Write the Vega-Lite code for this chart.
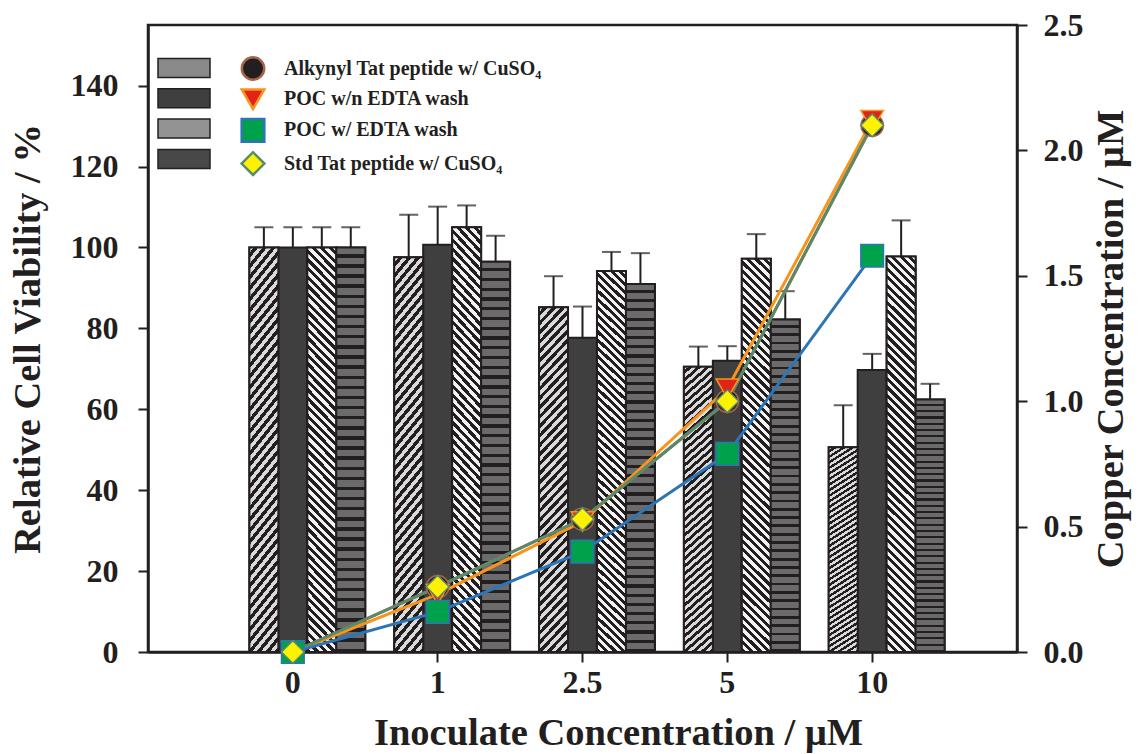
{
  "$schema": "https://vega.github.io/schema/vega-lite/v6.json",
  "width": 869,
  "height": 627,
  "autosize": "none",
  "padding": {"left": 148, "top": 25, "right": 122, "bottom": 102},
  "background": "white",
  "data": {
    "values": [
      {"conc": "0", "series": "Alkynyl Tat peptide w/ CuSO₄", "viability": 100, "cap": 105, "copper": 0},
      {"conc": "0", "series": "POC w/n EDTA wash", "viability": 100, "cap": 105, "copper": 0},
      {"conc": "0", "series": "POC w/ EDTA wash", "viability": 100, "cap": 105, "copper": 0},
      {"conc": "0", "series": "Std Tat peptide w/ CuSO₄", "viability": 100, "cap": 105, "copper": 0},
      {"conc": "1", "series": "Alkynyl Tat peptide w/ CuSO₄", "viability": 97.6, "cap": 108.1, "copper": 0.26},
      {"conc": "1", "series": "POC w/n EDTA wash", "viability": 100.7, "cap": 110.1, "copper": 0.23},
      {"conc": "1", "series": "POC w/ EDTA wash", "viability": 105, "cap": 110.4, "copper": 0.16},
      {"conc": "1", "series": "Std Tat peptide w/ CuSO₄", "viability": 96.5, "cap": 102.9, "copper": 0.26},
      {"conc": "2.5", "series": "Alkynyl Tat peptide w/ CuSO₄", "viability": 85.2, "cap": 92.9, "copper": 0.53},
      {"conc": "2.5", "series": "POC w/n EDTA wash", "viability": 77.7, "cap": 85.4, "copper": 0.52},
      {"conc": "2.5", "series": "POC w/ EDTA wash", "viability": 94.2, "cap": 98.9, "copper": 0.4},
      {"conc": "2.5", "series": "Std Tat peptide w/ CuSO₄", "viability": 91, "cap": 98.6, "copper": 0.53},
      {"conc": "5", "series": "Alkynyl Tat peptide w/ CuSO₄", "viability": 70.5, "cap": 75.5, "copper": 1.0},
      {"conc": "5", "series": "POC w/n EDTA wash", "viability": 72, "cap": 75.6, "copper": 1.05},
      {"conc": "5", "series": "POC w/ EDTA wash", "viability": 97.2, "cap": 103.3, "copper": 0.79},
      {"conc": "5", "series": "Std Tat peptide w/ CuSO₄", "viability": 82.2, "cap": 89.2, "copper": 1.0},
      {"conc": "10", "series": "Alkynyl Tat peptide w/ CuSO₄", "viability": 50.6, "cap": 61, "copper": 2.1},
      {"conc": "10", "series": "POC w/n EDTA wash", "viability": 69.7, "cap": 73.7, "copper": 2.12},
      {"conc": "10", "series": "POC w/ EDTA wash", "viability": 97.8, "cap": 106.7, "copper": 1.58},
      {"conc": "10", "series": "Std Tat peptide w/ CuSO₄", "viability": 62.4, "cap": 66.3, "copper": 2.1}
    ]
  },
  "layer": [
    {
      "encoding": {
        "x": {
          "field": "conc",
          "type": "ordinal",
          "sort": ["0", "1", "2.5", "5", "10"],
          "scale": {"paddingInner": 0, "paddingOuter": 0.5},
          "axis": {"title": "Inoculate Concentration / μM", "labelAngle": 0, "labelPadding": 5, "titlePadding": 16, "titleX": 470}
        },
        "xOffset": {
          "field": "series",
          "scale": {"domain": ["pad", "Alkynyl Tat peptide w/ CuSO₄", "POC w/n EDTA wash", "POC w/ EDTA wash", "Std Tat peptide w/ CuSO₄"], "paddingInner": 0, "paddingOuter": 0}
        },
        "y": {
          "field": "viability",
          "type": "quantitative",
          "scale": {"domain": [0, 155], "nice": false},
          "axis": {"title": "Relative Cell Viability / %", "values": [0, 20, 40, 60, 80, 100, 120, 140], "labelPadding": 20, "titlePadding": 22.5}
        }
      },
      "layer": [
        {
          "mark": {"type": "bar", "stroke": "#231f20", "strokeWidth": 2},
          "encoding": {
            "color": {
              "field": "series",
              "type": "nominal",
              "sort": ["Alkynyl Tat peptide w/ CuSO₄", "POC w/n EDTA wash", "POC w/ EDTA wash", "Std Tat peptide w/ CuSO₄"],
              "scale": {"range": ["#8a8a8a", "#3f3f3f", "#939393", "#484848"]},
              "legend": {
                "orient": "none",
                "legendX": 25,
                "legendY": 32,
                "title": null,
                "labelExpr": "''",
                "symbolType": "M-2.6,-0.95L2.6,-0.95L2.6,0.95L-2.6,0.95Z",
                "symbolSize": 400,
                "symbolStrokeColor": "#231f20",
                "symbolStrokeWidth": 1.5,
                "symbolOpacity": 1,
                "rowPadding": 4.3,
                "labelFontSize": 19
              }
            }
          }
        },
        {
          "transform": [{"filter": "datum.series === 'Alkynyl Tat peptide w/ CuSO₄'"}],
          "mark": {
            "type": "bar", "stroke": "#231f20", "strokeWidth": 2,
            "fill": {"gradient": "linear", "x1": 0, "y1": 0, "x2": 0.0965, "y2": 1.0807, "stops": [
              {"offset": 0, "color": "#dadada"}, {"offset": 0.0125, "color": "#dadada"}, {"offset": 0.0125, "color": "#231f20"}, {"offset": 0.025, "color": "#231f20"},
              {"offset": 0.025, "color": "#dadada"}, {"offset": 0.0375, "color": "#dadada"}, {"offset": 0.0375, "color": "#231f20"}, {"offset": 0.05, "color": "#231f20"},
              {"offset": 0.05, "color": "#dadada"}, {"offset": 0.0625, "color": "#dadada"}, {"offset": 0.0625, "color": "#231f20"}, {"offset": 0.075, "color": "#231f20"},
              {"offset": 0.075, "color": "#dadada"}, {"offset": 0.0875, "color": "#dadada"}, {"offset": 0.0875, "color": "#231f20"}, {"offset": 0.1, "color": "#231f20"},
              {"offset": 0.1, "color": "#dadada"}, {"offset": 0.1125, "color": "#dadada"}, {"offset": 0.1125, "color": "#231f20"}, {"offset": 0.125, "color": "#231f20"},
              {"offset": 0.125, "color": "#dadada"}, {"offset": 0.1375, "color": "#dadada"}, {"offset": 0.1375, "color": "#231f20"}, {"offset": 0.15, "color": "#231f20"},
              {"offset": 0.15, "color": "#dadada"}, {"offset": 0.1625, "color": "#dadada"}, {"offset": 0.1625, "color": "#231f20"}, {"offset": 0.175, "color": "#231f20"},
              {"offset": 0.175, "color": "#dadada"}, {"offset": 0.1875, "color": "#dadada"}, {"offset": 0.1875, "color": "#231f20"}, {"offset": 0.2, "color": "#231f20"},
              {"offset": 0.2, "color": "#dadada"}, {"offset": 0.2125, "color": "#dadada"}, {"offset": 0.2125, "color": "#231f20"}, {"offset": 0.225, "color": "#231f20"},
              {"offset": 0.225, "color": "#dadada"}, {"offset": 0.2375, "color": "#dadada"}, {"offset": 0.2375, "color": "#231f20"}, {"offset": 0.25, "color": "#231f20"},
              {"offset": 0.25, "color": "#dadada"}, {"offset": 0.2625, "color": "#dadada"}, {"offset": 0.2625, "color": "#231f20"}, {"offset": 0.275, "color": "#231f20"},
              {"offset": 0.275, "color": "#dadada"}, {"offset": 0.2875, "color": "#dadada"}, {"offset": 0.2875, "color": "#231f20"}, {"offset": 0.3, "color": "#231f20"},
              {"offset": 0.3, "color": "#dadada"}, {"offset": 0.3125, "color": "#dadada"}, {"offset": 0.3125, "color": "#231f20"}, {"offset": 0.325, "color": "#231f20"},
              {"offset": 0.325, "color": "#dadada"}, {"offset": 0.3375, "color": "#dadada"}, {"offset": 0.3375, "color": "#231f20"}, {"offset": 0.35, "color": "#231f20"},
              {"offset": 0.35, "color": "#dadada"}, {"offset": 0.3625, "color": "#dadada"}, {"offset": 0.3625, "color": "#231f20"}, {"offset": 0.375, "color": "#231f20"},
              {"offset": 0.375, "color": "#dadada"}, {"offset": 0.3875, "color": "#dadada"}, {"offset": 0.3875, "color": "#231f20"}, {"offset": 0.4, "color": "#231f20"},
              {"offset": 0.4, "color": "#dadada"}, {"offset": 0.4125, "color": "#dadada"}, {"offset": 0.4125, "color": "#231f20"}, {"offset": 0.425, "color": "#231f20"},
              {"offset": 0.425, "color": "#dadada"}, {"offset": 0.4375, "color": "#dadada"}, {"offset": 0.4375, "color": "#231f20"}, {"offset": 0.45, "color": "#231f20"},
              {"offset": 0.45, "color": "#dadada"}, {"offset": 0.4625, "color": "#dadada"}, {"offset": 0.4625, "color": "#231f20"}, {"offset": 0.475, "color": "#231f20"},
              {"offset": 0.475, "color": "#dadada"}, {"offset": 0.4875, "color": "#dadada"}, {"offset": 0.4875, "color": "#231f20"}, {"offset": 0.5, "color": "#231f20"},
              {"offset": 0.5, "color": "#dadada"}, {"offset": 0.5125, "color": "#dadada"}, {"offset": 0.5125, "color": "#231f20"}, {"offset": 0.525, "color": "#231f20"},
              {"offset": 0.525, "color": "#dadada"}, {"offset": 0.5375, "color": "#dadada"}, {"offset": 0.5375, "color": "#231f20"}, {"offset": 0.55, "color": "#231f20"},
              {"offset": 0.55, "color": "#dadada"}, {"offset": 0.5625, "color": "#dadada"}, {"offset": 0.5625, "color": "#231f20"}, {"offset": 0.575, "color": "#231f20"},
              {"offset": 0.575, "color": "#dadada"}, {"offset": 0.5875, "color": "#dadada"}, {"offset": 0.5875, "color": "#231f20"}, {"offset": 0.6, "color": "#231f20"},
              {"offset": 0.6, "color": "#dadada"}, {"offset": 0.6125, "color": "#dadada"}, {"offset": 0.6125, "color": "#231f20"}, {"offset": 0.625, "color": "#231f20"},
              {"offset": 0.625, "color": "#dadada"}, {"offset": 0.6375, "color": "#dadada"}, {"offset": 0.6375, "color": "#231f20"}, {"offset": 0.65, "color": "#231f20"},
              {"offset": 0.65, "color": "#dadada"}, {"offset": 0.6625, "color": "#dadada"}, {"offset": 0.6625, "color": "#231f20"}, {"offset": 0.675, "color": "#231f20"},
              {"offset": 0.675, "color": "#dadada"}, {"offset": 0.6875, "color": "#dadada"}, {"offset": 0.6875, "color": "#231f20"}, {"offset": 0.7, "color": "#231f20"},
              {"offset": 0.7, "color": "#dadada"}, {"offset": 0.7125, "color": "#dadada"}, {"offset": 0.7125, "color": "#231f20"}, {"offset": 0.725, "color": "#231f20"},
              {"offset": 0.725, "color": "#dadada"}, {"offset": 0.7375, "color": "#dadada"}, {"offset": 0.7375, "color": "#231f20"}, {"offset": 0.75, "color": "#231f20"},
              {"offset": 0.75, "color": "#dadada"}, {"offset": 0.7625, "color": "#dadada"}, {"offset": 0.7625, "color": "#231f20"}, {"offset": 0.775, "color": "#231f20"},
              {"offset": 0.775, "color": "#dadada"}, {"offset": 0.7875, "color": "#dadada"}, {"offset": 0.7875, "color": "#231f20"}, {"offset": 0.8, "color": "#231f20"},
              {"offset": 0.8, "color": "#dadada"}, {"offset": 0.8125, "color": "#dadada"}, {"offset": 0.8125, "color": "#231f20"}, {"offset": 0.825, "color": "#231f20"},
              {"offset": 0.825, "color": "#dadada"}, {"offset": 0.8375, "color": "#dadada"}, {"offset": 0.8375, "color": "#231f20"}, {"offset": 0.85, "color": "#231f20"},
              {"offset": 0.85, "color": "#dadada"}, {"offset": 0.8625, "color": "#dadada"}, {"offset": 0.8625, "color": "#231f20"}, {"offset": 0.875, "color": "#231f20"},
              {"offset": 0.875, "color": "#dadada"}, {"offset": 0.8875, "color": "#dadada"}, {"offset": 0.8875, "color": "#231f20"}, {"offset": 0.9, "color": "#231f20"},
              {"offset": 0.9, "color": "#dadada"}, {"offset": 0.9125, "color": "#dadada"}, {"offset": 0.9125, "color": "#231f20"}, {"offset": 0.925, "color": "#231f20"},
              {"offset": 0.925, "color": "#dadada"}, {"offset": 0.9375, "color": "#dadada"}, {"offset": 0.9375, "color": "#231f20"}, {"offset": 0.95, "color": "#231f20"},
              {"offset": 0.95, "color": "#dadada"}, {"offset": 0.9625, "color": "#dadada"}, {"offset": 0.9625, "color": "#231f20"}, {"offset": 0.975, "color": "#231f20"},
              {"offset": 0.975, "color": "#dadada"}, {"offset": 0.9875, "color": "#dadada"}, {"offset": 0.9875, "color": "#231f20"}, {"offset": 1, "color": "#231f20"}
            ]}
          }
        },
        {
          "transform": [{"filter": "datum.series === 'POC w/ EDTA wash'"}],
          "mark": {
            "type": "bar", "stroke": "#231f20", "strokeWidth": 2,
            "fill": {"gradient": "linear", "x1": 1, "y1": 0, "x2": 0.9221, "y2": 1.0673, "stops": [
              {"offset": 0, "color": "#f2f2f2"}, {"offset": 0.01, "color": "#f2f2f2"}, {"offset": 0.01, "color": "#231f20"}, {"offset": 0.02, "color": "#231f20"},
              {"offset": 0.02, "color": "#f2f2f2"}, {"offset": 0.03, "color": "#f2f2f2"}, {"offset": 0.03, "color": "#231f20"}, {"offset": 0.04, "color": "#231f20"},
              {"offset": 0.04, "color": "#f2f2f2"}, {"offset": 0.05, "color": "#f2f2f2"}, {"offset": 0.05, "color": "#231f20"}, {"offset": 0.06, "color": "#231f20"},
              {"offset": 0.06, "color": "#f2f2f2"}, {"offset": 0.07, "color": "#f2f2f2"}, {"offset": 0.07, "color": "#231f20"}, {"offset": 0.08, "color": "#231f20"},
              {"offset": 0.08, "color": "#f2f2f2"}, {"offset": 0.09, "color": "#f2f2f2"}, {"offset": 0.09, "color": "#231f20"}, {"offset": 0.1, "color": "#231f20"},
              {"offset": 0.1, "color": "#f2f2f2"}, {"offset": 0.11, "color": "#f2f2f2"}, {"offset": 0.11, "color": "#231f20"}, {"offset": 0.12, "color": "#231f20"},
              {"offset": 0.12, "color": "#f2f2f2"}, {"offset": 0.13, "color": "#f2f2f2"}, {"offset": 0.13, "color": "#231f20"}, {"offset": 0.14, "color": "#231f20"},
              {"offset": 0.14, "color": "#f2f2f2"}, {"offset": 0.15, "color": "#f2f2f2"}, {"offset": 0.15, "color": "#231f20"}, {"offset": 0.16, "color": "#231f20"},
              {"offset": 0.16, "color": "#f2f2f2"}, {"offset": 0.17, "color": "#f2f2f2"}, {"offset": 0.17, "color": "#231f20"}, {"offset": 0.18, "color": "#231f20"},
              {"offset": 0.18, "color": "#f2f2f2"}, {"offset": 0.19, "color": "#f2f2f2"}, {"offset": 0.19, "color": "#231f20"}, {"offset": 0.2, "color": "#231f20"},
              {"offset": 0.2, "color": "#f2f2f2"}, {"offset": 0.21, "color": "#f2f2f2"}, {"offset": 0.21, "color": "#231f20"}, {"offset": 0.22, "color": "#231f20"},
              {"offset": 0.22, "color": "#f2f2f2"}, {"offset": 0.23, "color": "#f2f2f2"}, {"offset": 0.23, "color": "#231f20"}, {"offset": 0.24, "color": "#231f20"},
              {"offset": 0.24, "color": "#f2f2f2"}, {"offset": 0.25, "color": "#f2f2f2"}, {"offset": 0.25, "color": "#231f20"}, {"offset": 0.26, "color": "#231f20"},
              {"offset": 0.26, "color": "#f2f2f2"}, {"offset": 0.27, "color": "#f2f2f2"}, {"offset": 0.27, "color": "#231f20"}, {"offset": 0.28, "color": "#231f20"},
              {"offset": 0.28, "color": "#f2f2f2"}, {"offset": 0.29, "color": "#f2f2f2"}, {"offset": 0.29, "color": "#231f20"}, {"offset": 0.3, "color": "#231f20"},
              {"offset": 0.3, "color": "#f2f2f2"}, {"offset": 0.31, "color": "#f2f2f2"}, {"offset": 0.31, "color": "#231f20"}, {"offset": 0.32, "color": "#231f20"},
              {"offset": 0.32, "color": "#f2f2f2"}, {"offset": 0.33, "color": "#f2f2f2"}, {"offset": 0.33, "color": "#231f20"}, {"offset": 0.34, "color": "#231f20"},
              {"offset": 0.34, "color": "#f2f2f2"}, {"offset": 0.35, "color": "#f2f2f2"}, {"offset": 0.35, "color": "#231f20"}, {"offset": 0.36, "color": "#231f20"},
              {"offset": 0.36, "color": "#f2f2f2"}, {"offset": 0.37, "color": "#f2f2f2"}, {"offset": 0.37, "color": "#231f20"}, {"offset": 0.38, "color": "#231f20"},
              {"offset": 0.38, "color": "#f2f2f2"}, {"offset": 0.39, "color": "#f2f2f2"}, {"offset": 0.39, "color": "#231f20"}, {"offset": 0.4, "color": "#231f20"},
              {"offset": 0.4, "color": "#f2f2f2"}, {"offset": 0.41, "color": "#f2f2f2"}, {"offset": 0.41, "color": "#231f20"}, {"offset": 0.42, "color": "#231f20"},
              {"offset": 0.42, "color": "#f2f2f2"}, {"offset": 0.43, "color": "#f2f2f2"}, {"offset": 0.43, "color": "#231f20"}, {"offset": 0.44, "color": "#231f20"},
              {"offset": 0.44, "color": "#f2f2f2"}, {"offset": 0.45, "color": "#f2f2f2"}, {"offset": 0.45, "color": "#231f20"}, {"offset": 0.46, "color": "#231f20"},
              {"offset": 0.46, "color": "#f2f2f2"}, {"offset": 0.47, "color": "#f2f2f2"}, {"offset": 0.47, "color": "#231f20"}, {"offset": 0.48, "color": "#231f20"},
              {"offset": 0.48, "color": "#f2f2f2"}, {"offset": 0.49, "color": "#f2f2f2"}, {"offset": 0.49, "color": "#231f20"}, {"offset": 0.5, "color": "#231f20"},
              {"offset": 0.5, "color": "#f2f2f2"}, {"offset": 0.51, "color": "#f2f2f2"}, {"offset": 0.51, "color": "#231f20"}, {"offset": 0.52, "color": "#231f20"},
              {"offset": 0.52, "color": "#f2f2f2"}, {"offset": 0.53, "color": "#f2f2f2"}, {"offset": 0.53, "color": "#231f20"}, {"offset": 0.54, "color": "#231f20"},
              {"offset": 0.54, "color": "#f2f2f2"}, {"offset": 0.55, "color": "#f2f2f2"}, {"offset": 0.55, "color": "#231f20"}, {"offset": 0.56, "color": "#231f20"},
              {"offset": 0.56, "color": "#f2f2f2"}, {"offset": 0.57, "color": "#f2f2f2"}, {"offset": 0.57, "color": "#231f20"}, {"offset": 0.58, "color": "#231f20"},
              {"offset": 0.58, "color": "#f2f2f2"}, {"offset": 0.59, "color": "#f2f2f2"}, {"offset": 0.59, "color": "#231f20"}, {"offset": 0.6, "color": "#231f20"},
              {"offset": 0.6, "color": "#f2f2f2"}, {"offset": 0.61, "color": "#f2f2f2"}, {"offset": 0.61, "color": "#231f20"}, {"offset": 0.62, "color": "#231f20"},
              {"offset": 0.62, "color": "#f2f2f2"}, {"offset": 0.63, "color": "#f2f2f2"}, {"offset": 0.63, "color": "#231f20"}, {"offset": 0.64, "color": "#231f20"},
              {"offset": 0.64, "color": "#f2f2f2"}, {"offset": 0.65, "color": "#f2f2f2"}, {"offset": 0.65, "color": "#231f20"}, {"offset": 0.66, "color": "#231f20"},
              {"offset": 0.66, "color": "#f2f2f2"}, {"offset": 0.67, "color": "#f2f2f2"}, {"offset": 0.67, "color": "#231f20"}, {"offset": 0.68, "color": "#231f20"},
              {"offset": 0.68, "color": "#f2f2f2"}, {"offset": 0.69, "color": "#f2f2f2"}, {"offset": 0.69, "color": "#231f20"}, {"offset": 0.7, "color": "#231f20"},
              {"offset": 0.7, "color": "#f2f2f2"}, {"offset": 0.71, "color": "#f2f2f2"}, {"offset": 0.71, "color": "#231f20"}, {"offset": 0.72, "color": "#231f20"},
              {"offset": 0.72, "color": "#f2f2f2"}, {"offset": 0.73, "color": "#f2f2f2"}, {"offset": 0.73, "color": "#231f20"}, {"offset": 0.74, "color": "#231f20"},
              {"offset": 0.74, "color": "#f2f2f2"}, {"offset": 0.75, "color": "#f2f2f2"}, {"offset": 0.75, "color": "#231f20"}, {"offset": 0.76, "color": "#231f20"},
              {"offset": 0.76, "color": "#f2f2f2"}, {"offset": 0.77, "color": "#f2f2f2"}, {"offset": 0.77, "color": "#231f20"}, {"offset": 0.78, "color": "#231f20"},
              {"offset": 0.78, "color": "#f2f2f2"}, {"offset": 0.79, "color": "#f2f2f2"}, {"offset": 0.79, "color": "#231f20"}, {"offset": 0.8, "color": "#231f20"},
              {"offset": 0.8, "color": "#f2f2f2"}, {"offset": 0.81, "color": "#f2f2f2"}, {"offset": 0.81, "color": "#231f20"}, {"offset": 0.82, "color": "#231f20"},
              {"offset": 0.82, "color": "#f2f2f2"}, {"offset": 0.83, "color": "#f2f2f2"}, {"offset": 0.83, "color": "#231f20"}, {"offset": 0.84, "color": "#231f20"},
              {"offset": 0.84, "color": "#f2f2f2"}, {"offset": 0.85, "color": "#f2f2f2"}, {"offset": 0.85, "color": "#231f20"}, {"offset": 0.86, "color": "#231f20"},
              {"offset": 0.86, "color": "#f2f2f2"}, {"offset": 0.87, "color": "#f2f2f2"}, {"offset": 0.87, "color": "#231f20"}, {"offset": 0.88, "color": "#231f20"},
              {"offset": 0.88, "color": "#f2f2f2"}, {"offset": 0.89, "color": "#f2f2f2"}, {"offset": 0.89, "color": "#231f20"}, {"offset": 0.9, "color": "#231f20"},
              {"offset": 0.9, "color": "#f2f2f2"}, {"offset": 0.91, "color": "#f2f2f2"}, {"offset": 0.91, "color": "#231f20"}, {"offset": 0.92, "color": "#231f20"},
              {"offset": 0.92, "color": "#f2f2f2"}, {"offset": 0.93, "color": "#f2f2f2"}, {"offset": 0.93, "color": "#231f20"}, {"offset": 0.94, "color": "#231f20"},
              {"offset": 0.94, "color": "#f2f2f2"}, {"offset": 0.95, "color": "#f2f2f2"}, {"offset": 0.95, "color": "#231f20"}, {"offset": 0.96, "color": "#231f20"},
              {"offset": 0.96, "color": "#f2f2f2"}, {"offset": 0.97, "color": "#f2f2f2"}, {"offset": 0.97, "color": "#231f20"}, {"offset": 0.98, "color": "#231f20"},
              {"offset": 0.98, "color": "#f2f2f2"}, {"offset": 0.99, "color": "#f2f2f2"}, {"offset": 0.99, "color": "#231f20"}, {"offset": 1, "color": "#231f20"}
            ]}
          }
        },
        {
          "transform": [{"filter": "datum.series === 'Std Tat peptide w/ CuSO₄'"}],
          "mark": {
            "type": "bar", "stroke": "#231f20", "strokeWidth": 2,
            "fill": {"gradient": "linear", "x1": 0, "y1": 0, "x2": 0, "y2": 1, "stops": [
              {"offset": 0, "color": "#6b6b6b"}, {"offset": 0.0165, "color": "#6b6b6b"}, {"offset": 0.0165, "color": "#231f20"}, {"offset": 0.025, "color": "#231f20"},
              {"offset": 0.025, "color": "#6b6b6b"}, {"offset": 0.0415, "color": "#6b6b6b"}, {"offset": 0.0415, "color": "#231f20"}, {"offset": 0.05, "color": "#231f20"},
              {"offset": 0.05, "color": "#6b6b6b"}, {"offset": 0.0665, "color": "#6b6b6b"}, {"offset": 0.0665, "color": "#231f20"}, {"offset": 0.075, "color": "#231f20"},
              {"offset": 0.075, "color": "#6b6b6b"}, {"offset": 0.0915, "color": "#6b6b6b"}, {"offset": 0.0915, "color": "#231f20"}, {"offset": 0.1, "color": "#231f20"},
              {"offset": 0.1, "color": "#6b6b6b"}, {"offset": 0.1165, "color": "#6b6b6b"}, {"offset": 0.1165, "color": "#231f20"}, {"offset": 0.125, "color": "#231f20"},
              {"offset": 0.125, "color": "#6b6b6b"}, {"offset": 0.1415, "color": "#6b6b6b"}, {"offset": 0.1415, "color": "#231f20"}, {"offset": 0.15, "color": "#231f20"},
              {"offset": 0.15, "color": "#6b6b6b"}, {"offset": 0.1665, "color": "#6b6b6b"}, {"offset": 0.1665, "color": "#231f20"}, {"offset": 0.175, "color": "#231f20"},
              {"offset": 0.175, "color": "#6b6b6b"}, {"offset": 0.1915, "color": "#6b6b6b"}, {"offset": 0.1915, "color": "#231f20"}, {"offset": 0.2, "color": "#231f20"},
              {"offset": 0.2, "color": "#6b6b6b"}, {"offset": 0.2165, "color": "#6b6b6b"}, {"offset": 0.2165, "color": "#231f20"}, {"offset": 0.225, "color": "#231f20"},
              {"offset": 0.225, "color": "#6b6b6b"}, {"offset": 0.2415, "color": "#6b6b6b"}, {"offset": 0.2415, "color": "#231f20"}, {"offset": 0.25, "color": "#231f20"},
              {"offset": 0.25, "color": "#6b6b6b"}, {"offset": 0.2665, "color": "#6b6b6b"}, {"offset": 0.2665, "color": "#231f20"}, {"offset": 0.275, "color": "#231f20"},
              {"offset": 0.275, "color": "#6b6b6b"}, {"offset": 0.2915, "color": "#6b6b6b"}, {"offset": 0.2915, "color": "#231f20"}, {"offset": 0.3, "color": "#231f20"},
              {"offset": 0.3, "color": "#6b6b6b"}, {"offset": 0.3165, "color": "#6b6b6b"}, {"offset": 0.3165, "color": "#231f20"}, {"offset": 0.325, "color": "#231f20"},
              {"offset": 0.325, "color": "#6b6b6b"}, {"offset": 0.3415, "color": "#6b6b6b"}, {"offset": 0.3415, "color": "#231f20"}, {"offset": 0.35, "color": "#231f20"},
              {"offset": 0.35, "color": "#6b6b6b"}, {"offset": 0.3665, "color": "#6b6b6b"}, {"offset": 0.3665, "color": "#231f20"}, {"offset": 0.375, "color": "#231f20"},
              {"offset": 0.375, "color": "#6b6b6b"}, {"offset": 0.3915, "color": "#6b6b6b"}, {"offset": 0.3915, "color": "#231f20"}, {"offset": 0.4, "color": "#231f20"},
              {"offset": 0.4, "color": "#6b6b6b"}, {"offset": 0.4165, "color": "#6b6b6b"}, {"offset": 0.4165, "color": "#231f20"}, {"offset": 0.425, "color": "#231f20"},
              {"offset": 0.425, "color": "#6b6b6b"}, {"offset": 0.4415, "color": "#6b6b6b"}, {"offset": 0.4415, "color": "#231f20"}, {"offset": 0.45, "color": "#231f20"},
              {"offset": 0.45, "color": "#6b6b6b"}, {"offset": 0.4665, "color": "#6b6b6b"}, {"offset": 0.4665, "color": "#231f20"}, {"offset": 0.475, "color": "#231f20"},
              {"offset": 0.475, "color": "#6b6b6b"}, {"offset": 0.4915, "color": "#6b6b6b"}, {"offset": 0.4915, "color": "#231f20"}, {"offset": 0.5, "color": "#231f20"},
              {"offset": 0.5, "color": "#6b6b6b"}, {"offset": 0.5165, "color": "#6b6b6b"}, {"offset": 0.5165, "color": "#231f20"}, {"offset": 0.525, "color": "#231f20"},
              {"offset": 0.525, "color": "#6b6b6b"}, {"offset": 0.5415, "color": "#6b6b6b"}, {"offset": 0.5415, "color": "#231f20"}, {"offset": 0.55, "color": "#231f20"},
              {"offset": 0.55, "color": "#6b6b6b"}, {"offset": 0.5665, "color": "#6b6b6b"}, {"offset": 0.5665, "color": "#231f20"}, {"offset": 0.575, "color": "#231f20"},
              {"offset": 0.575, "color": "#6b6b6b"}, {"offset": 0.5915, "color": "#6b6b6b"}, {"offset": 0.5915, "color": "#231f20"}, {"offset": 0.6, "color": "#231f20"},
              {"offset": 0.6, "color": "#6b6b6b"}, {"offset": 0.6165, "color": "#6b6b6b"}, {"offset": 0.6165, "color": "#231f20"}, {"offset": 0.625, "color": "#231f20"},
              {"offset": 0.625, "color": "#6b6b6b"}, {"offset": 0.6415, "color": "#6b6b6b"}, {"offset": 0.6415, "color": "#231f20"}, {"offset": 0.65, "color": "#231f20"},
              {"offset": 0.65, "color": "#6b6b6b"}, {"offset": 0.6665, "color": "#6b6b6b"}, {"offset": 0.6665, "color": "#231f20"}, {"offset": 0.675, "color": "#231f20"},
              {"offset": 0.675, "color": "#6b6b6b"}, {"offset": 0.6915, "color": "#6b6b6b"}, {"offset": 0.6915, "color": "#231f20"}, {"offset": 0.7, "color": "#231f20"},
              {"offset": 0.7, "color": "#6b6b6b"}, {"offset": 0.7165, "color": "#6b6b6b"}, {"offset": 0.7165, "color": "#231f20"}, {"offset": 0.725, "color": "#231f20"},
              {"offset": 0.725, "color": "#6b6b6b"}, {"offset": 0.7415, "color": "#6b6b6b"}, {"offset": 0.7415, "color": "#231f20"}, {"offset": 0.75, "color": "#231f20"},
              {"offset": 0.75, "color": "#6b6b6b"}, {"offset": 0.7665, "color": "#6b6b6b"}, {"offset": 0.7665, "color": "#231f20"}, {"offset": 0.775, "color": "#231f20"},
              {"offset": 0.775, "color": "#6b6b6b"}, {"offset": 0.7915, "color": "#6b6b6b"}, {"offset": 0.7915, "color": "#231f20"}, {"offset": 0.8, "color": "#231f20"},
              {"offset": 0.8, "color": "#6b6b6b"}, {"offset": 0.8165, "color": "#6b6b6b"}, {"offset": 0.8165, "color": "#231f20"}, {"offset": 0.825, "color": "#231f20"},
              {"offset": 0.825, "color": "#6b6b6b"}, {"offset": 0.8415, "color": "#6b6b6b"}, {"offset": 0.8415, "color": "#231f20"}, {"offset": 0.85, "color": "#231f20"},
              {"offset": 0.85, "color": "#6b6b6b"}, {"offset": 0.8665, "color": "#6b6b6b"}, {"offset": 0.8665, "color": "#231f20"}, {"offset": 0.875, "color": "#231f20"},
              {"offset": 0.875, "color": "#6b6b6b"}, {"offset": 0.8915, "color": "#6b6b6b"}, {"offset": 0.8915, "color": "#231f20"}, {"offset": 0.9, "color": "#231f20"},
              {"offset": 0.9, "color": "#6b6b6b"}, {"offset": 0.9165, "color": "#6b6b6b"}, {"offset": 0.9165, "color": "#231f20"}, {"offset": 0.925, "color": "#231f20"},
              {"offset": 0.925, "color": "#6b6b6b"}, {"offset": 0.9415, "color": "#6b6b6b"}, {"offset": 0.9415, "color": "#231f20"}, {"offset": 0.95, "color": "#231f20"},
              {"offset": 0.95, "color": "#6b6b6b"}, {"offset": 0.9665, "color": "#6b6b6b"}, {"offset": 0.9665, "color": "#231f20"}, {"offset": 0.975, "color": "#231f20"},
              {"offset": 0.975, "color": "#6b6b6b"}, {"offset": 0.9915, "color": "#6b6b6b"}, {"offset": 0.9915, "color": "#231f20"}, {"offset": 1, "color": "#231f20"}
            ]}
          }
        },
        {
          "mark": {"type": "rule", "color": "#231f20", "strokeWidth": 2},
          "encoding": {
            "y2": {"field": "cap"}
          }
        },
        {
          "mark": {"type": "tick", "color": "#231f20", "thickness": 2, "size": 19, "orient": "horizontal"},
          "encoding": {
            "y": {
              "field": "cap",
              "type": "quantitative",
              "scale": {"domain": [0, 155], "nice": false},
              "axis": {"title": "Relative Cell Viability / %", "values": [0, 20, 40, 60, 80, 100, 120, 140], "labelPadding": 20, "titlePadding": 22.5}
            }
          }
        }
      ]
    },
    {
      "encoding": {
        "x": {"field": "conc", "type": "ordinal", "sort": ["0", "1", "2.5", "5", "10"]},
        "y": {
          "field": "copper",
          "type": "quantitative",
          "scale": {"domain": [0, 2.5], "nice": false},
          "axis": {"orient": "right", "title": "Copper Concentration / μM", "values": [0, 0.5, 1, 1.5, 2, 2.5], "format": ".1f", "labelPadding": 16, "titlePadding": 9, "titleAngle": 270, "titleBaseline": "top"}
        },
        "stroke": {
          "field": "series",
          "type": "nominal",
          "scale": {
            "domain": ["Alkynyl Tat peptide w/ CuSO₄", "POC w/n EDTA wash", "POC w/ EDTA wash", "Std Tat peptide w/ CuSO₄"],
            "range": ["#a8644a", "#f7941d", "#2e75b6", "#5a8a6a"]
          },
          "legend": {
            "orient": "none", "legendX": 92, "legendY": 31, "title": null, "labelLimit": 0,
            "symbolSize": 400, "symbolStrokeWidth": 2.5, "labelOffset": 18, "rowPadding": -0.8, "labelFontSize": 20
          }
        }
      },
      "layer": [
        {
          "mark": {"type": "line", "strokeWidth": 3}
        },
        {
          "mark": {"type": "point", "filled": true, "strokeWidth": 1.5, "opacity": 1},
          "encoding": {
            "fill": {
              "field": "series",
              "type": "nominal",
              "scale": {
                "domain": ["Alkynyl Tat peptide w/ CuSO₄", "POC w/n EDTA wash", "POC w/ EDTA wash", "Std Tat peptide w/ CuSO₄"],
                "range": ["#231f20", "#e2231a", "#00a14b", "#fff200"]
              },
              "legend": {
                "orient": "none", "legendX": 92, "legendY": 31, "title": null, "labelLimit": 0,
                "symbolSize": 400, "symbolStrokeWidth": 2.5, "labelOffset": 18, "rowPadding": -0.8, "labelFontSize": 20
              }
            },
            "shape": {
              "field": "series",
              "type": "nominal",
              "scale": {
                "domain": ["Alkynyl Tat peptide w/ CuSO₄", "POC w/n EDTA wash", "POC w/ EDTA wash", "Std Tat peptide w/ CuSO₄"],
                "range": ["circle", "triangle-down", "square", "diamond"]
              },
              "legend": {
                "orient": "none", "legendX": 92, "legendY": 31, "title": null, "labelLimit": 0,
                "symbolSize": 400, "symbolStrokeWidth": 2.5, "labelOffset": 18, "rowPadding": -0.8, "labelFontSize": 20
              }
            },
            "size": {
              "field": "series",
              "type": "nominal",
              "scale": {
                "domain": ["Alkynyl Tat peptide w/ CuSO₄", "POC w/n EDTA wash", "POC w/ EDTA wash", "Std Tat peptide w/ CuSO₄"],
                "range": [500, 520, 380, 560]
              },
              "legend": null
            }
          }
        }
      ]
    }
  ],
  "resolve": {"scale": {"y": "independent"}},
  "config": {
    "font": "Liberation Serif",
    "view": {"stroke": "#231f20", "strokeWidth": 2.5},
    "axis": {
      "grid": false,
      "labelFont": "Liberation Serif",
      "labelFontWeight": "bold",
      "labelFontSize": 32,
      "labelColor": "#231f20",
      "titleFont": "Liberation Serif",
      "titleFontWeight": "bold",
      "titleFontSize": 38.5,
      "titleColor": "#231f20",
      "domainColor": "#231f20",
      "domainWidth": 2.5,
      "tickColor": "#231f20",
      "tickWidth": 2,
      "tickSize": 10
    },
    "legend": {
      "labelFont": "Liberation Serif",
      "labelFontWeight": "bold",
      "labelColor": "#231f20"
    }
  }
}
